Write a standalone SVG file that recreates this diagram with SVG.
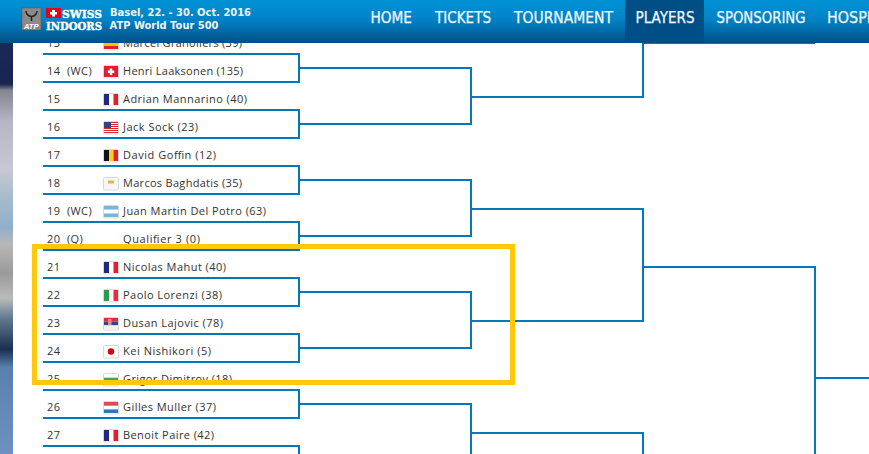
<svg xmlns="http://www.w3.org/2000/svg" width="869" height="454" viewBox="0 0 869 454">
<style>
.t{font-family:"Open Sans","Liberation Sans",sans-serif;font-size:11px;fill:#333}
.s{letter-spacing:.35px}
.c{fill:none;stroke:#0079bb;stroke-width:2}
.n{font-family:"DejaVu Sans Condensed","DejaVu Sans",sans-serif;font-size:15px;fill:#f2f8fc;stroke:#f2f8fc;stroke-width:.25}
.h{font-family:"DejaVu Sans",sans-serif;font-size:10px;font-weight:700;fill:#eef6fb}
.l{font-family:"DejaVu Serif",serif;font-weight:700;font-size:10.500px;fill:#fff;stroke:#fff;stroke-width:.4}
.fs{fill:#fff;stroke:#d8d8d8;stroke-width:1}
</style>
<defs>
<linearGradient id="hg" x1="0" y1="0" x2="0" y2="1"><stop offset="0" stop-color="#0092d6"/><stop offset=".45" stop-color="#0083c6"/><stop offset="1" stop-color="#004f88"/></linearGradient>
<linearGradient id="bg" x1="0" y1="43" x2="0" y2="454" gradientUnits="userSpaceOnUse">
<stop offset="0" stop-color="#1a2a55"/><stop offset=".1" stop-color="#1a2450"/><stop offset=".115" stop-color="#85858f"/><stop offset=".19" stop-color="#b5b5c5"/><stop offset=".31" stop-color="#c8c8d4"/><stop offset=".38" stop-color="#a5bacd"/><stop offset=".45" stop-color="#8fb0cc"/><stop offset=".49" stop-color="#b8b8b8"/><stop offset=".56" stop-color="#9a9a9a"/><stop offset=".62" stop-color="#bbb"/><stop offset=".67" stop-color="#607a8f"/><stop offset=".745" stop-color="#1a3050"/><stop offset=".79" stop-color="#5a80ae"/><stop offset="1" stop-color="#6f90c0"/>
</linearGradient>
<rect id="f" x="103.500" y="-5.500" width="15" height="12.500" rx="1" class="fs"/>
<g id="fr"><use href="#f"/><rect x="104" y="-5" width="5" height="11" fill="#1c2a80"/><rect x="113.500" y="-5" width="4.500" height="11" fill="#e0202c"/></g>
</defs>
<rect width="869" height="454" fill="#fff"/>
<rect x="0" y="43" width="13" height="411" fill="url(#bg)"/>

<g id="connectors" class="c">
<path d="M43 54H299V82H43"/><path d="M43 110H299V138H43"/><path d="M43 166H299V194H43"/><path d="M43 222H299V250H43"/><path d="M43 278H299V306H43"/><path d="M43 334H299V362H43"/><path d="M43 390H299V418H43"/><path d="M43 446H299V460"/>
<path d="M299 68H471V124H299"/><path d="M299 180H471V236H299"/><path d="M299 292H471V348H299"/><path d="M299 404H471V460"/>
<path d="M471 97H643V43"/><path d="M643 43H815"/><path d="M471 209H643V321H471"/><path d="M471 433H643V460"/>
<path d="M643 267H815V460"/><path d="M815 378H869"/>
</g>

<g id="row13" transform="translate(0,43)"><text class="t s" x="47" y="4">13</text><use href="#f"/><rect x="104" y="-5" width="14" height="11" fill="#d8262c"/><rect x="104" y="-2" width="14" height="5" fill="#f5c400"/><text class="t" x="123" y="4" textLength="119">Marcel Granollers (39)</text></g>
<g id="row14" transform="translate(0,71)"><text class="t s" x="47" y="4">14</text><text class="t s" x="67" y="4">(WC)</text><use href="#f"/><rect x="104" y="-5" width="14" height="11" fill="#e0202c"/><path d="M109.800 -2.500h2.400v2h2v2.400h-2v2h-2.400v-2h-2v-2.400h2z" fill="#fff"/><text class="t" x="123" y="4" textLength="120">Henri Laaksonen (135)</text></g>
<g id="row15" transform="translate(0,99)"><text class="t s" x="47" y="4">15</text><use href="#fr"/><text class="t" x="123" y="4" textLength="124">Adrian Mannarino (40)</text></g>
<g id="row16" transform="translate(0,127)"><text class="t s" x="47" y="4">16</text><use href="#f"/><path d="M104-4.500h14M104-2.500h14M104-.5h14M104 1.500h14M104 3.500h14M104 5.500h14" stroke="#d8262c" stroke-width="1"/><rect x="104" y="-5" width="7" height="6" fill="#3c3b8e"/><text class="t" x="123" y="4" textLength="75">Jack Sock (23)</text></g>
<g id="row17" transform="translate(0,155)"><text class="t s" x="47" y="4">17</text><use href="#f"/><rect x="104" y="-5" width="5" height="11" fill="#111"/><rect x="109" y="-5" width="4.500" height="11" fill="#f6d21c"/><rect x="113.500" y="-5" width="4.500" height="11" fill="#e0202c"/><text class="t" x="123" y="4" textLength="93">David Goffin (12)</text></g>
<g id="row18" transform="translate(0,183)"><text class="t s" x="47" y="4">18</text><use href="#f"/><rect x="104" y="-5" width="14" height="11" fill="#f6f6f6"/><rect x="108" y="-2.500" width="6" height="3" fill="#e8b050"/><text class="t" x="123" y="4" textLength="119">Marcos Baghdatis (35)</text></g>
<g id="row19" transform="translate(0,211)"><text class="t s" x="47" y="4">19</text><text class="t s" x="67" y="4">(WC)</text><use href="#f"/><rect x="104" y="-5" width="14" height="3.500" fill="#74b4de"/><rect x="104" y="2.500" width="14" height="3.500" fill="#74b4de"/><text class="t" x="123" y="4" textLength="143">Juan Martin Del Potro (63)</text></g>
<g id="row20" transform="translate(0,239)"><text class="t s" x="47" y="4">20</text><text class="t s" x="67" y="4">(Q)</text><text class="t" x="123" y="4" textLength="77">Qualifier 3 (0)</text></g>
<g id="row21" transform="translate(0,267)"><text class="t s" x="47" y="4">21</text><use href="#fr"/><text class="t" x="123" y="4" textLength="103">Nicolas Mahut (40)</text></g>
<g id="row22" transform="translate(0,295)"><text class="t s" x="47" y="4">22</text><use href="#f"/><rect x="104" y="-5" width="5" height="11" fill="#2c9a4c"/><rect x="113.500" y="-5" width="4.500" height="11" fill="#e0303a"/><text class="t" x="123" y="4" textLength="99">Paolo Lorenzi (38)</text></g>
<g id="row23" transform="translate(0,323)"><text class="t s" x="47" y="4">23</text><use href="#f"/><rect x="104" y="-5" width="14" height="3.700" fill="#d8303a"/><rect x="104" y="-1.300" width="14" height="3.700" fill="#2a4a90"/><rect x="104" y="2.400" width="14" height="3.600" fill="#f2f2f2"/><rect x="108" y="-4" width="3.500" height="6" fill="#e88"/><text class="t" x="123" y="4" textLength="100">Dusan Lajovic (78)</text></g>
<g id="row24" transform="translate(0,351)"><text class="t s" x="47" y="4">24</text><use href="#f"/><circle cx="111" cy=".5" r="3.200" fill="#d80010"/><text class="t" x="123" y="4" textLength="88">Kei Nishikori (5)</text></g>
<g id="row25" transform="translate(0,379)"><text class="t s" x="47" y="4">25</text><use href="#f"/><rect x="104" y="-1.300" width="14" height="3.700" fill="#3aa860"/><rect x="104" y="2.400" width="14" height="3.600" fill="#d8d8d8"/><text class="t" x="123" y="4" textLength="109">Grigor Dimitrov (18)</text></g>
<g id="row26" transform="translate(0,407)"><text class="t s" x="47" y="4">26</text><use href="#f"/><rect x="104" y="-5" width="14" height="3.700" fill="#e04858"/><rect x="104" y="2.400" width="14" height="3.600" fill="#2a78b8"/><text class="t" x="123" y="4" textLength="93">Gilles Muller (37)</text></g>
<g id="row27" transform="translate(0,435)"><text class="t s" x="47" y="4">27</text><use href="#fr"/><text class="t" x="123" y="4" textLength="91">Benoit Paire (42)</text></g>

<rect id="highlight" x="34.500" y="246.500" width="478" height="136" fill="none" stroke="#fec90a" stroke-width="5"/>

<g id="header">
<rect width="869" height="43" fill="url(#hg)"/>
<rect x="625" y="0" width="79" height="43" fill="#004e86"/>
<rect x="22" y="8" width="19" height="22" fill="#8a8a8a" stroke="#555" stroke-width=".5"/>
<path d="M26 11a5.500 5.500 0 0 0 11 0M31.500 16v5" fill="none" stroke="#222" stroke-width="1.500"/>
<text x="24" y="29" font-family="Liberation Sans,sans-serif" font-size="7.500" font-weight="700" font-style="italic" fill="#fff">ATP</text>
<rect x="46" y="8" width="15" height="10" fill="#e2001a"/><path d="M52 10h3v2h2v2.500h-2v2h-3v-2h-2V12h2z" fill="#fff"/>
<text class="l" x="62" y="18" textLength="40" lengthAdjust="spacingAndGlyphs">SWISS</text>
<text class="l" x="46" y="29.500" textLength="56" lengthAdjust="spacingAndGlyphs">INDOORS</text>
<text class="h" x="110" y="16" textLength="141" lengthAdjust="spacingAndGlyphs">Basel, 22. - 30. Oct. 2016</text>
<text class="h" x="109.500" y="29" textLength="109" lengthAdjust="spacingAndGlyphs">ATP World Tour 500</text>
<text class="n" x="370.500" y="23" textLength="41.500" lengthAdjust="spacingAndGlyphs">HOME</text>
<text class="n" x="435" y="23" textLength="56" lengthAdjust="spacingAndGlyphs">TICKETS</text>
<text class="n" x="514" y="23" textLength="99" lengthAdjust="spacingAndGlyphs">TOURNAMENT</text>
<text class="n" x="635.500" y="23" textLength="59" lengthAdjust="spacingAndGlyphs">PLAYERS</text>
<text class="n" x="716.500" y="23" textLength="89" lengthAdjust="spacingAndGlyphs">SPONSORING</text>
<text class="n" x="827" y="23" textLength="44" lengthAdjust="spacingAndGlyphs">HOSPI</text>
</g>
</svg>
